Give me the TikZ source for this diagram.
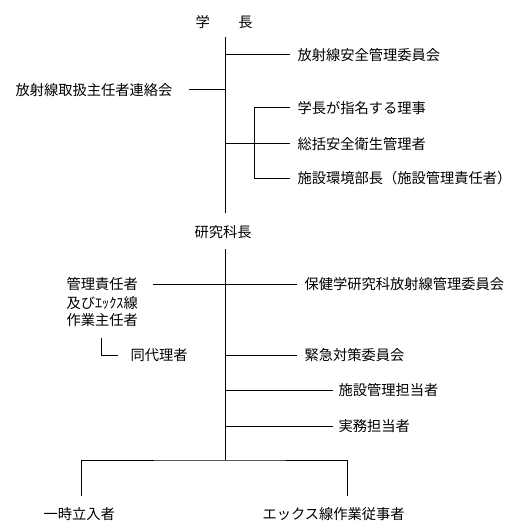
\documentclass[tikz,border=0pt]{standalone}
\usepackage{fontspec}
\newfontfamily\jp{Noto Sans CJK JP}
\begin{document}
\begin{tikzpicture}[x=0.75pt,y=-0.75pt,line width=0.75pt,
  lbl/.style={font=\jp\fontsize{10.7pt}{13.5pt}\selectfont,inner sep=0pt,anchor=west}]
\useasboundingbox (0,0) rectangle (517,531);
% text nodes
\node[lbl] (gakucho) at (195,22) {学　　長};
\node[lbl] (renraku) at (15,90) {放射線取扱主任者連絡会};
\node[lbl] (anzen) at (297,55) {放射線安全管理委員会};
\node[lbl] (riji) at (297,108) {学長が指名する理事};
\node[lbl] (sokatsu) at (297,144) {総括安全衛生管理者};
\node[lbl] (shisetsu) at (297,178) {施設環境部長（施設管理責任者）};
\node[lbl] (kenkyu) at (194,232) {研究科長};
\node[lbl] (mgra) at (66,284) {管理責任者};
\node[lbl] (mgrb) at (66,303) {及びｴｯｸｽ線};
\node[lbl] (mgrc) at (66,320) {作業主任者};
\node[lbl] (hoken) at (304,284) {保健学研究科放射線管理委員会};
\node[lbl] (dairi) at (130,355) {同代理者};
\node[lbl] (kinkyu) at (304,355) {緊急対策委員会};
\node[lbl] (kanri) at (338,390) {施設管理担当者};
\node[lbl] (jitsumu) at (338,426) {実務担当者};
\node[lbl] (ichiji) at (43,514) {一時立入者};
\node[lbl] (xray) at (262,514) {エックス線作業従事者};
% junction coordinates
\coordinate (v1top) at (225,37);
\coordinate (v1bot) at (225,213);
\coordinate (j1) at (225,55);
\coordinate (j2) at (225,90);
\coordinate (j3) at (225,144);
\coordinate (b2) at (254,178);
\coordinate (v2top) at (225,249);
\coordinate (j5) at (225,355);
\coordinate (j6) at (225,390);
\coordinate (j7) at (225,426);
\coordinate (j8) at (225,460);
\coordinate (d1) at (101,338);
\coordinate (l1) at (81,496);
\coordinate (r1) at (347,496);
% connectors
\draw (v1top) -- (v1bot);
\draw (j1) -- ([xshift=-5.25pt]anzen.west);
\draw ([xshift=12pt]renraku.east) -- (j2);
\draw ([xshift=-5.25pt]riji.west) -| (b2) -- ([xshift=-5.25pt]shisetsu.west);
\draw (j3) -- ([xshift=-5.25pt]sokatsu.west);
\draw (v2top) -- (j8);
\draw ([xshift=10.9pt]mgra.east) -- ([xshift=-5.25pt]hoken.west);
\draw (d1) |- ([xshift=-9pt]dairi.west);
\draw (j5) -- ([xshift=-5.25pt]kinkyu.west);
\draw (j6) -- ([xshift=-3.75pt]kanri.west);
\draw (j7) -- ([xshift=-3.75pt]jitsumu.west);
\draw (l1) |- (j8) -| (r1);
\end{tikzpicture}
\end{document}
